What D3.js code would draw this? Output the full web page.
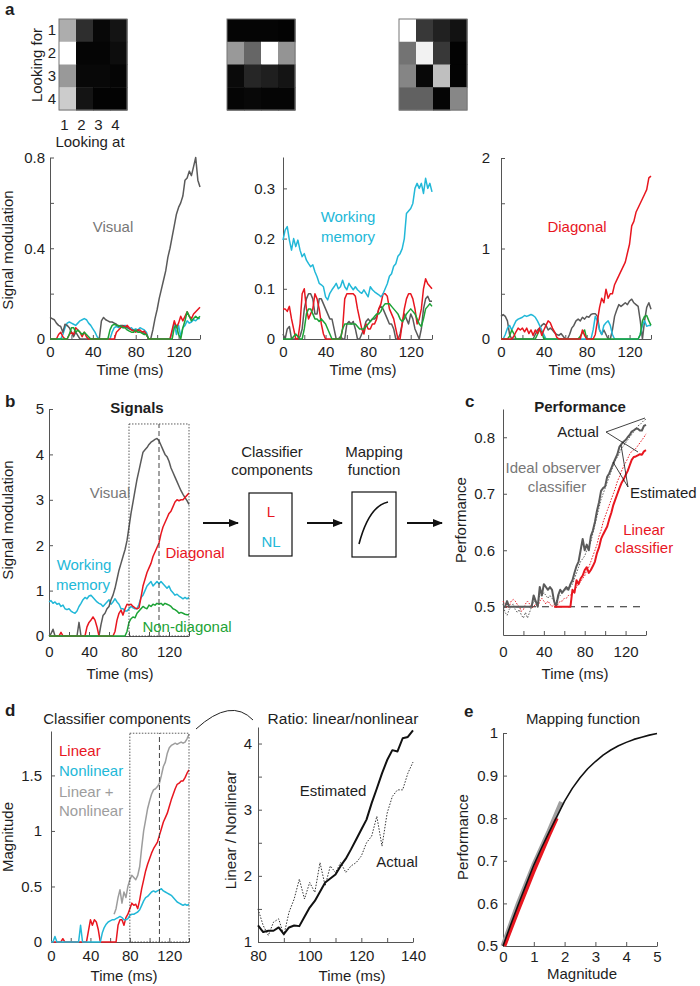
<!DOCTYPE html>
<html><head><meta charset="utf-8">
<script src="https://cdn.jsdelivr.net/npm/d3@7"></script>
<style>body{margin:0;background:#fff;}</style>
</head><body>
<script>
// ---------------- DATA ----------------
const timeMs = [0,2,4,6,8,10,12,14,16,18,20,22,24,26,28,30,32,34,36,38,40,42,44,46,48,50,52,54,56,58,60,62,64,66,68,70,72,74,76,78,80,82,84,86,88,90,92,94,96,98,100,102,104,106,108,110,112,114,116,118,120,122,124,126,128,130,132,134,136,138,140];
const ratioTimeMs = [80,82,84,86,88,90,92,94,96,98,100,102,104,106,108,110,112,114,116,118,120,122,124,126,128,130,132,134,136,138,140];

const lookLabels = ['1','2','3','4'];
const matVisual = [[0.68,0.18,0.03,0.08],[1,0.02,0.02,0.05],[0.6,0.03,0.03,0.02],[0.8,0.08,0.01,0.01]];
const matMemory = [[0.02,0.02,0.02,0.01],[0.6,0.4,1,0.58],[0.04,0.15,0.12,0.08],[0.02,0.03,0.02,0.02]];
const matDiagonal = [[1,0.22,0.13,0.07],[0.45,0.95,0.22,0.01],[0.52,0.03,0.75,0.01],[0.38,0.38,0.02,0.53]];

// panel a, left (Visual)
const aVisGray = [0.095,0.09,0.085,0.07,0.06,0.055,0.03,0.065,0.06,0.05, 0.03,0.01,0.03,0.015,0,0,0,0,0,0, 0,0,0,0,0.08,0.095,0.085,0.08,0.075,0.075, 0.07,0.065,0.055,0.06,0.06,0.055,0.05,0.045,0.04,0.04, 0.035,0.04,0.03,0.03,0.025,0.02,0,0,0.04,0.09, 0.13,0.18,0.22,0.26,0.3,0.36,0.4,0.45,0.5,0.55, 0.58,0.6,0.63,0.7,0.71,0.74,0.72,0.76,0.8,0.7, 0.67];
const aVisCyan = [0,0,0,0,0,0,0.02,0.05,0.07,0.075, 0.07,0.065,0.06,0.07,0.08,0.085,0.09,0.085,0.07,0.06, 0.045,0.03,0.01,0,0,0,0,0,0,0.03, 0.05,0.055,0.05,0.055,0.05,0.06,0.05,0.045,0.05,0.04, 0.045,0.04,0.05,0.045,0.04,0.03,0,0,0,0, 0,0,0,0,0,0,0,0.03,0.07,0.02, 0.06,0.01,0.05,0.06,0.08,0.07,0.075,0.085,0.08,0.09, 0.09];
const aVisRed = [0,0,0,0,0.02,0.03,0.01,0,0,0.02, 0.03,0.02,0.05,0.04,0.03,0.01,0.03,0.01,0,0, 0,0,0,0,0,0,0,0,0,0, 0,0.03,0.04,0.05,0.055,0.05,0.06,0.05,0.04,0.035, 0.03,0.04,0.04,0.03,0.035,0.02,0,0,0,0, 0,0,0,0,0,0,0,0.04,0.08,0.05, 0.07,0.1,0.08,0.1,0.12,0.1,0.09,0.11,0.12,0.13, 0.14];
const aVisGreen = [0,0,0,0,0,0,0,0,0,0.02, 0.05,0.05,0.03,0.04,0.03,0.02,0.03,0.02,0.01,0, 0,0,0,0,0,0,0,0,0.04,0.06, 0.065,0.06,0.06,0.055,0.05,0.05,0.04,0.035,0.03,0.03, 0.04,0.03,0.03,0.025,0.02,0.02,0,0,0,0, 0,0,0,0,0,0,0,0,0.05,0.06, 0.02,0,0.05,0.08,0.12,0.1,0.08,0.09,0.1,0.09, 0.1];

// panel a, middle (Working memory)
const aMemCyan = [0.197,0.217,0.224,0.197,0.177,0.2,0.184,0.197,0.177,0.164, 0.17,0.157,0.15,0.144,0.148,0.134,0.124,0.111,0.108,0.104, 0.084,0.078,0.091,0.098,0.104,0.111,0.1,0.104,0.117,0.104, 0.098,0.111,0.104,0.098,0.104,0.098,0.094,0.091,0.098,0.091, 0.084,0.104,0.098,0.094,0.091,0.088,0.084,0.09,0.1,0.11, 0.125,0.13,0.145,0.15,0.165,0.17,0.18,0.2,0.25,0.255, 0.26,0.27,0.3,0.31,0.3,0.31,0.29,0.32,0.3,0.31, 0.293];
const aMemRed = [0.06,0.06,0.055,0.065,0.04,0.02,0,0,0.03,0.09, 0.1,0.06,0.04,0.05,0.06,0.09,0.08,0.06,0.03,0.01, 0,0,0,0,0,0,0,0,0.02,0.08, 0.09,0.09,0.09,0.09,0.085,0.06,0.04,0.02,0.01,0.03, 0.02,0.02,0.03,0.03,0.04,0.06,0.07,0.09,0.09,0.085, 0.06,0.05,0.04,0.02,0,0,0.03,0.06,0.08,0.09, 0.09,0.08,0.06,0.03,0.04,0.06,0.1,0.12,0.11,0.105, 0.1];
const aMemGray = [0.01,0,0.02,0.025,0,0,0,0,0.005,0.02, 0.06,0.08,0.09,0.09,0.08,0.05,0.05,0.08,0.08,0.07, 0.06,0.05,0.04,0.04,0.02,0,0,0.005,0,0, 0.03,0.035,0.03,0.035,0.02,0,0,0.01,0.02,0.035, 0.04,0.035,0.04,0.04,0.045,0.06,0.065,0.06,0.05,0.04, 0.03,0.03,0.02,0,0,0.01,0.03,0.05,0.04,0.03, 0.05,0.04,0.02,0.01,0,0.02,0.06,0.08,0.085,0.075, 0.075];
const aMemGreen = [0,0,0,0,0,0.005,0.01,0.005,0,0, 0.02,0.05,0.06,0.06,0.05,0.04,0.04,0.035,0.04,0.035, 0.03,0.02,0.01,0,0,0,0,0,0.02,0.03, 0.03,0.03,0.03,0.03,0.03,0.025,0.02,0.02,0.02,0.025, 0.03,0.035,0.04,0.045,0.05,0.05,0.055,0.065,0.07,0.07, 0.07,0.065,0.06,0.055,0.05,0.04,0.035,0.04,0.05,0.055, 0.06,0.055,0.05,0.04,0.03,0.025,0.04,0.06,0.065,0.07, 0.065];

// panel a, right (Diagonal)
const aDiagRed = [0,0,0,0,0,0,0.03,0.08,0.12,0.1, 0.12,0.08,0.12,0.06,0.1,0.04,0.1,0.06,0.12,0.04, 0.1,0.15,0.2,0.18,0.12,0.08,0.02,0,0,0, 0,0,0,0,0,0,0,0,0.1,0.04, 0,0,0,0,0.05,0.2,0.35,0.45,0.4,0.55, 0.45,0.5,0.5,0.6,0.65,0.7,0.75,0.8,0.85,0.95, 1.05,1.25,1.3,1.4,1.45,1.5,1.55,1.6,1.65,1.78, 1.8];
const aDiagGray = [0.25,0.27,0.25,0.2,0.05,0,0,0,0,0, 0,0,0,0,0,0,0.05,0.1,0.12,0.15, 0.17,0.15,0.1,0.12,0.1,0.07,0.05,0.04,0.06,0.03, 0,0,0.05,0.12,0.15,0.2,0.22,0.2,0.24,0.22, 0.25,0.24,0.27,0.28,0.28,0.25,0.1,0.05,0.1,0.05, 0,0,0.1,0.25,0.32,0.38,0.36,0.38,0.4,0.38, 0.42,0.44,0.4,0.38,0.36,0.2,0,0.2,0.35,0.4, 0.33];
const aDiagCyan = [0,0,0.05,0.12,0.15,0.1,0.15,0.2,0.22,0.23, 0.24,0.26,0.25,0.26,0.27,0.26,0.24,0.2,0.15,0.1, 0.05,0,0,0,0,0,0,0,0,0, 0,0,0,0,0,0,0,0,0,0, 0,0,0,0.1,0.25,0.2,0.1,0.05,0.15,0.18, 0.2,0.15,0.05,0,0,0,0,0,0,0, 0,0,0,0,0,0.05,0.15,0.2,0.14,0.15, 0.15];
const aDiagGreen = [0,0,0,0,0.03,0.1,0.06,0,0,0, 0,0,0,0,0,0,0,0.05,0.1,0.08, 0,0,0,0,0,0,0,0,0,0, 0,0,0,0,0,0,0,0.03,0.07,0.1, 0,0,0,0,0,0,0,0,0,0, 0,0,0,0,0,0,0,0,0,0, 0,0,0,0,0,0.05,0.2,0.25,0.26,0.2, 0.15];

// panel b (Signals)
const bVisual = [0,0.05,0.15,0,0,0,0,0,0,0, 0,0,0,0,0,0.3,0,0,0,0, 0,0,0,0,0,0,0.25,0.45,0.5,0.6, 0.65,0.8,0.9,1.05,1.25,1.45,1.6,1.75,1.9,2.1, 2.4,2.7,2.95,3.2,3.45,3.65,3.85,4.05,4.1,4.15, 4.22,4.27,4.3,4.33,4.35,4.3,4.2,4.1,4.0,3.95, 3.85,3.7,3.6,3.5,3.4,3.3,3.2,3.12,3.05,2.98, 2.9];
const bDiagonal = [0,0,0,0,0,0,0.08,0,0,0, 0,0,0,0,0,0,0,0,0,0.2, 0.3,0.35,0.42,0.35,0.2,0,0,0,0,0, 0,0,0,0.1,0.35,0.5,0.57,0.46,0.6,0.7, 0.68,0.7,0.65,0.62,0.6,0.62,0.85,1.1,1.25,1.4, 1.5,1.6,1.75,1.85,1.95,2.05,2.25,2.4,2.5,2.6, 2.7,2.75,2.85,2.95,3.0,2.98,3.0,3.0,3.05,3.1, 3.15];
const bMemory = [0.75,0.78,0.72,0.75,0.7,0.72,0.65,0.68,0.6,0.58, 0.6,0.55,0.52,0.5,0.55,0.65,0.72,0.8,0.85,0.82, 0.88,0.9,0.85,0.8,0.75,0.72,0.7,0.65,0.7,0.75, 0.8,0.7,0.75,0.82,0.75,0.7,0.6,0.6,0.55,0.55, 0.6,0.65,0.62,0.6,0.6,0.7,0.85,0.9,1.0,1.1, 1.15,1.2,1.1,1.15,1.2,1.15,1.2,1.15,1.1,1.05, 1.1,1.0,0.95,0.9,0.92,0.88,0.85,0.82,0.85,0.82, 0.85];
const bNonDiag = [0,0,0,0,0,0,0,0,0,0, 0,0,0,0,0,0,0,0,0,0, 0,0,0,0,0,0,0,0,0,0, 0,0,0,0,0,0,0,0,0,0.1, 0.3,0.38,0.42,0.4,0.5,0.55,0.6,0.65,0.62,0.6, 0.68,0.65,0.7,0.68,0.72,0.7,0.72,0.68,0.72,0.7, 0.68,0.65,0.6,0.58,0.55,0.5,0.52,0.5,0.48,0.47, 0.47];

// panel c (Performance)
const cIdealActual = [0.5,0.5,0.51,0.5,0.5,0.5,0.5,0.5,0.5,0.5, 0.5,0.5,0.5,0.5,0.5,0.52,0.51,0.5,0.535,0.52, 0.54,0.535,0.53,0.535,0.53,0.51,0.5,0.52,0.53,0.525, 0.53,0.535,0.53,0.54,0.547,0.56,0.572,0.58,0.6,0.62, 0.6,0.61,0.6,0.625,0.635,0.65,0.67,0.685,0.705,0.71, 0.713,0.73,0.736,0.745,0.754,0.762,0.77,0.783,0.788,0.792, 0.795,0.8,0.804,0.81,0.812,0.815,0.815,0.812,0.812,0.82, 0.822];
const cIdealEst = [0.505,0.49,0.485,0.495,0.5,0.505,0.495,0.49,0.495,0.485, 0.48,0.49,0.48,0.49,0.5,0.51,0.51,0.505,0.52,0.52, 0.525,0.52,0.515,0.52,0.515,0.51,0.51,0.515,0.52,0.525, 0.53,0.53,0.535,0.535,0.54,0.55,0.56,0.57,0.58,0.585, 0.59,0.6,0.605,0.615,0.63,0.645,0.66,0.675,0.69,0.7, 0.71,0.72,0.73,0.74,0.75,0.76,0.765,0.772,0.78,0.785, 0.79,0.795,0.8,0.805,0.81,0.815,0.82,0.822,0.826,0.83, 0.832];
const cLinActual = [null,null,null,null,null,null,null,null,null,null, null,null,null,null,null,null,null,null,null,null, null,null,null,null,null,0.5,0.5,0.5,0.5,0.5, 0.5,0.5,0.5,0.5,0.53,0.525,0.547,0.54,0.55,0.555, 0.565,0.57,0.56,0.565,0.572,0.58,0.595,0.605,0.62,0.628, 0.635,0.642,0.655,0.666,0.68,0.69,0.7,0.71,0.719,0.725, 0.733,0.74,0.75,0.76,0.765,0.766,0.768,0.77,0.769,0.775, 0.777];
const cLinEst = [0.51,0.505,0.498,0.5,0.51,0.513,0.51,0.504,0.5,0.492, 0.495,0.505,0.51,0.505,0.498,0.5,0.505,0.5,0.51,0.515, 0.51,0.505,0.51,0.505,0.5,0.505,0.5,0.505,0.51,0.51, 0.515,0.515,0.52,0.52,0.525,0.53,0.535,0.54,0.545,0.55, 0.555,0.565,0.57,0.58,0.59,0.6,0.61,0.625,0.635,0.65, 0.66,0.67,0.68,0.69,0.7,0.71,0.722,0.73,0.74,0.748, 0.755,0.762,0.77,0.775,0.778,0.78,0.785,0.79,0.795,0.8, 0.806];
const cChance = [0.5,0.5];
const cChanceT = [0,140];

// panel d (Classifier components)
const dLinear = [0,0,0,0,0,0,0.03,0,0,0, 0,0,0,0,0,0,0,0,0,0.1, 0.2,0.15,0.2,0.18,0.11,0,0,0,0,0, 0,0,0,0,0.15,0.2,0.2,0.15,0.22,0.25, 0.3,0.35,0.33,0.34,0.3,0.38,0.48,0.56,0.64,0.7, 0.75,0.8,0.84,0.87,0.9,0.96,1.02,1.08,1.12,1.16, 1.22,1.28,1.33,1.38,1.42,1.43,1.45,1.45,1.48,1.52, 1.55];
const dNonlinear = [0,0,0.05,0,0,0,0,0,0,0, 0,0,0,0,0,0.15,0,0,0,0, 0,0,0,0,0,0,0.08,0.13,0.16,0.18, 0.19,0.2,0.2,0.21,0.22,0.23,0.22,0.2,0.2,0.21, 0.24,0.25,0.25,0.26,0.27,0.29,0.33,0.37,0.4,0.41, 0.43,0.45,0.46,0.45,0.46,0.47,0.48,0.46,0.45,0.44, 0.43,0.42,0.4,0.38,0.36,0.35,0.34,0.33,0.34,0.33, 0.34];
const dSum = [null,null,null,null,null,null,null,null,null,null, null,null,null,null,null,null,null,null,null,null, null,null,null,null,null,null,null,null,null,null, null,null,0.25,0.3,0.4,0.47,0.35,0.45,0.4,0.5, 0.56,0.6,0.58,0.56,0.6,0.68,0.85,1.0,1.1,1.2, 1.27,1.33,1.37,1.38,1.4,1.43,1.5,1.58,1.62,1.7, 1.75,1.77,1.78,1.79,1.78,1.79,1.8,1.79,1.8,1.83, 1.87];
const ratioEstimated = [1.25,1.15,1.17,1.17,1.22,1.12,1.22,1.25,1.24,1.38, 1.52,1.62,1.76,1.9,1.96,2.02,2.15,2.26,2.4,2.55, 2.7,2.85,3.1,3.32,3.55,3.75,3.9,3.88,4.08,4.1, 4.2];
const ratioActual = [1.5,1.25,1.1,1.3,1.35,1.1,1.45,1.65,1.95,1.65, 1.9,1.75,2.2,1.85,2.15,2.05,2.2,2.05,2.15,2.2, 2.3,2.5,2.6,2.9,2.45,2.95,3.2,3.3,3.3,3.55, 3.72];

// panel e (Mapping function)
const mapMagnitude = [0,0.25,0.5,0.75,1,1.25,1.5,1.75,2,2.25,2.5,2.75,3,3.25,3.5,3.75,4,4.25,4.5,4.75,5];
const mapPerformance = [0.5,0.55,0.598,0.644,0.69,0.73,0.768,0.804,0.84,0.87,0.895,0.916,0.933,0.948,0.96,0.97,0.978,0.985,0.99,0.995,0.999];
const sumRangeMag = [0,0.5,1,1.5,1.9];
const sumRangePerf = [0.5,0.6,0.69,0.77,0.838];
const linRangeMag = [0.05,0.5,1,1.5,1.75];
const linRangePerf = [0.5,0.585,0.675,0.76,0.8];

// tick values / labels
const timeTicks = [0,20,40,60,80,100,120,140];
const timeTickLabels = ['0','','40','','80','','120',''];
const ratioTimeTicks = [80,90,100,110,120,130,140];
const ratioTimeLabels = ['80','','100','','120','','140'];
const aVisYTicks = [0,0.2,0.4,0.6,0.8], aVisYLabels = ['0','','0.4','','0.8'];
const aMemYTicks = [0,0.1,0.2,0.3], aMemYLabels = ['0','0.1','0.2','0.3'];
const aDiagYTicks = [0,0.5,1,1.5,2], aDiagYLabels = ['0','','1','','2'];
const bYTicks = [0,1,2,3,4,5], bYLabels = ['0','1','2','3','4','5'];
const cYTicks = [0.5,0.6,0.7,0.8], cYLabels = ['0.5','0.6','0.7','0.8'];
const dYTicks = [0,0.5,1,1.5], dYLabels = ['0','0.5','1','1.5'];
const rYTicks = [1,1.5,2,2.5,3,3.5,4], rYLabels = ['1','','2','','3','','4'];
const eXTicks = [0,1,2,3,4,5], eXLabels = ['0','1','2','3','4','5'];
const eYTicks = [0.5,0.6,0.7,0.8,0.9,1], eYLabels = ['0.5','0.6','0.7','0.8','0.9','1'];

// ---------------- DRAWING ----------------
const COL = {gray:'#5a5a5a', cyan:'#22b8d8', red:'#e8161f', green:'#1ca336', lgray:'#9d9d9d', text:'#1e1e1e'};
const svg = d3.select('body').append('svg').attr('width',700).attr('height',986)
  .style('font-family','"Liberation Sans", Arial, Helvetica, sans-serif');

svg.append('defs').append('marker').attr('id','arr').attr('viewBox','0 0 10 10').attr('refX',9).attr('refY',5)
  .attr('markerWidth',5).attr('markerHeight',5).attr('orient','auto')
  .append('path').attr('d','M0,1 L10,5 L0,9 z').attr('fill','#111');

function txt(x,y,s,o={}){
  const t = svg.append('text').attr('x',x).attr('y',y).text(s)
    .attr('font-size',o.size||15).attr('fill',o.fill||COL.text).attr('text-anchor',o.anchor||'middle');
  if(o.bold) t.attr('font-weight','bold');
  return t;
}
function vtxt(x,y,s,o={}){
  svg.append('text').attr('transform',`translate(${x},${y}) rotate(-90)`).attr('text-anchor','middle')
    .attr('font-size',o.size||15).attr('fill',o.fill||COL.text).text(s);
}
function panel(c){
  const x = d3.scaleLinear().domain(c.xd).range(c.xr);
  const y = d3.scaleLinear().domain(c.yd).range(c.yr);
  const g = svg.append('g');
  const xa = g.append('g').attr('transform',`translate(0,${c.yr[0]})`)
    .call(d3.axisBottom(x).tickValues(c.xt).tickFormat((d,i)=>c.xl[i]).tickSizeInner(-4).tickSizeOuter(0).tickPadding(c.xpad));
  const ya = g.append('g').attr('transform',`translate(${c.xr[0]},0)`)
    .call(d3.axisLeft(y).tickValues(c.yt).tickFormat((d,i)=>c.yl[i]).tickSizeInner(-4).tickSizeOuter(0).tickPadding(c.ypad));
  [xa,ya].forEach(a=>{
    a.attr('font-family',null).attr('font-size',null);
    a.selectAll('text').attr('font-size',15).attr('fill',COL.text);
    a.selectAll('path,line').attr('stroke','#555').attr('stroke-width',1);
  });
  return {x,y,g};
}
function series(p, xs, ys, o){
  p.g.append('path').datum(ys).attr('fill','none').attr('stroke',o.c).attr('stroke-width',o.w||1.5)
    .attr('stroke-dasharray',o.dash||null).attr('stroke-linejoin','round').attr('stroke-linecap',o.cap||'butt')
    .attr('d', d3.line().defined(d=>d!==null).x((d,i)=>p.x(xs[i])).y(d=>p.y(d)));
}

// panel letters
txt(5,15,'a',{anchor:'start',bold:true,size:17});
txt(5,407,'b',{anchor:'start',bold:true,size:17});
txt(465,407,'c',{anchor:'start',bold:true,size:17});
txt(5,716,'d',{anchor:'start',bold:true,size:17});
txt(464,717,'e',{anchor:'start',bold:true,size:17});

// ---- a: matrices ----
function heat(x0, mat){
  const bx = d3.scaleBand().domain(lookLabels).range([x0,x0+68]);
  const by = d3.scaleBand().domain(lookLabels).range([19,110]);
  const g = svg.append('g');
  mat.forEach((row,r)=>row.forEach((v,c)=>{
    g.append('rect').attr('x',bx(lookLabels[c])).attr('y',by(lookLabels[r]))
      .attr('width',bx.bandwidth()+0.5).attr('height',by.bandwidth()+0.5)
      .attr('fill',d3.interpolateRgb('#000','#fff')(v));
  }));
  g.append('rect').attr('x',x0).attr('y',19).attr('width',68).attr('height',91)
    .attr('fill','none').attr('stroke','#777').attr('stroke-width',1);
  return {bx,by};
}
const h1 = heat(59, matVisual);
heat(227, matMemory);
heat(399, matDiagonal);
lookLabels.forEach(l=>{
  txt(56, h1.by(l)+h1.by.bandwidth()/2+5, l, {anchor:'end'});
  txt(h1.bx(l)+h1.bx.bandwidth()/2-3, 130, l);
});
vtxt(42,65,'Looking for');
txt(90,147,'Looking at');

// ---- a: line panels ----
const pA1 = panel({xd:[0,140],xr:[50,200],yd:[0,0.8],yr:[339,157.5],xt:timeTicks,xl:timeTickLabels,yt:aVisYTicks,yl:aVisYLabels,xpad:7,ypad:5});
series(pA1,timeMs,aVisCyan,{c:COL.cyan});
series(pA1,timeMs,aVisGray,{c:COL.gray});
series(pA1,timeMs,aVisRed,{c:COL.red});
series(pA1,timeMs,aVisGreen,{c:COL.green});
txt(113,232,'Visual',{fill:'#777'});
vtxt(13,250,'Signal modulation');
txt(130,375,'Time (ms)');

const pA2 = panel({xd:[0,140],xr:[283,432],yd:[0,0.3625],yr:[339,157],xt:timeTicks,xl:timeTickLabels,yt:aMemYTicks,yl:aMemYLabels,xpad:7,ypad:8});
series(pA2,timeMs,aMemGray,{c:COL.gray});
series(pA2,timeMs,aMemRed,{c:COL.red});
series(pA2,timeMs,aMemGreen,{c:COL.green});
series(pA2,timeMs,aMemCyan,{c:COL.cyan});
txt(348,222,'Working',{fill:COL.cyan});
txt(348,242,'memory',{fill:COL.cyan});
txt(363,375,'Time (ms)');

const pA3 = panel({xd:[0,140],xr:[501,651],yd:[0,2],yr:[339,158],xt:timeTicks,xl:timeTickLabels,yt:aDiagYTicks,yl:aDiagYLabels,xpad:7,ypad:11});
series(pA3,timeMs,aDiagGray,{c:COL.gray});
series(pA3,timeMs,aDiagCyan,{c:COL.cyan});
series(pA3,timeMs,aDiagGreen,{c:COL.green});
series(pA3,timeMs,aDiagRed,{c:COL.red});
txt(577,232,'Diagonal',{fill:COL.red});
txt(582,375,'Time (ms)');

// ---- b ----
const pB = panel({xd:[0,140],xr:[49,189],yd:[0,5],yr:[636,409],xt:timeTicks,xl:timeTickLabels,yt:bYTicks,yl:bYLabels,xpad:10,ypad:5});
series(pB,timeMs,bMemory,{c:COL.cyan});
series(pB,timeMs,bVisual,{c:COL.gray});
series(pB,timeMs,bDiagonal,{c:COL.red});
series(pB,timeMs,bNonDiag,{c:COL.green});
pB.g.append('rect').attr('x',pB.x(80)).attr('y',pB.y(4.67)).attr('width',pB.x(140)-pB.x(80)).attr('height',pB.y(0)-pB.y(4.67))
  .attr('fill','none').attr('stroke','#333').attr('stroke-width',0.8).attr('stroke-dasharray','1.5,1.5');
pB.g.append('line').attr('x1',pB.x(110)).attr('x2',pB.x(110)).attr('y1',pB.y(0)).attr('y2',pB.y(4.67))
  .attr('stroke','#444').attr('stroke-width',1).attr('stroke-dasharray','5,3');
txt(137,413,'Signals',{bold:true});
txt(110,498,'Visual',{fill:'#777'});
txt(84,570,'Working',{fill:COL.cyan});
txt(83,590,'memory',{fill:COL.cyan});
txt(195,558,'Diagonal',{fill:COL.red});
txt(187,632,'Non-diagonal',{fill:COL.green});
vtxt(13,520,'Signal modulation');
txt(120,679,'Time (ms)');

// schema
txt(272,457,'Classifier'); txt(272,475,'components');
txt(374,457,'Mapping'); txt(374,475,'function');
svg.append('rect').attr('x',249).attr('y',493).attr('width',43).attr('height',63).attr('fill','none').attr('stroke','#111').attr('stroke-width',1.2);
svg.append('rect').attr('x',352).attr('y',492).attr('width',44).attr('height',65).attr('fill','none').attr('stroke','#111').attr('stroke-width',1.2);
txt(271,517,'L',{fill:COL.red});
txt(271,547,'NL',{fill:COL.cyan});
svg.append('path').attr('d','M359,544 Q369,506 388,502').attr('fill','none').attr('stroke','#111').attr('stroke-width',1.6);
[[203,238],[307,342],[407,442]].forEach(a=>{
  svg.append('line').attr('x1',a[0]).attr('x2',a[1]).attr('y1',523).attr('y2',523)
    .attr('stroke','#111').attr('stroke-width',2).attr('marker-end','url(#arr)');
});

// ---- c ----
const pC = panel({xd:[0,140],xr:[503,646],yd:[0.45,0.85],yr:[635,409],xt:timeTicks,xl:timeTickLabels,yt:cYTicks,yl:cYLabels,xpad:11,ypad:8});
series(pC,cChanceT,cChance,{c:'#222',w:1,dash:'7,6'});
series(pC,timeMs,cIdealEst,{c:COL.gray,w:1,dash:'1.5,1.5'});
series(pC,timeMs,cLinEst,{c:COL.red,w:1,dash:'1.5,1.5'});
series(pC,timeMs,cIdealActual,{c:COL.gray,w:2});
series(pC,timeMs,cLinActual,{c:COL.red,w:2});
txt(580,412,'Performance',{bold:true});
txt(578,437,'Actual');
txt(553,473,'Ideal observer',{fill:'#777'});
txt(557,492,'classifier',{fill:'#777'});
txt(630,498,'Estimated',{anchor:'start'});
txt(644,535,'Linear',{fill:COL.red});
txt(644,553,'classifier',{fill:COL.red});
[[606,432,645,418],[606,432,638,452],[628,487,621,445],[628,487,613,462]].forEach(l=>{
  svg.append('line').attr('x1',l[0]).attr('y1',l[1]).attr('x2',l[2]).attr('y2',l[3]).attr('stroke','#111').attr('stroke-width',0.8);
});
vtxt(466,520,'Performance');
txt(575,679,'Time (ms)');

// ---- d left ----
const pD = panel({xd:[0,140],xr:[51,189],yd:[0,1.9],yr:[942,731],xt:timeTicks,xl:timeTickLabels,yt:dYTicks,yl:dYLabels,xpad:8,ypad:9});
series(pD,timeMs,dLinear,{c:COL.red});
series(pD,timeMs,dNonlinear,{c:COL.cyan});
series(pD,timeMs,dSum,{c:COL.lgray});
pD.g.append('rect').attr('x',pD.x(80)).attr('y',pD.y(1.88)).attr('width',pD.x(140)-pD.x(80)).attr('height',pD.y(0)-pD.y(1.88))
  .attr('fill','none').attr('stroke','#333').attr('stroke-width',0.8).attr('stroke-dasharray','1.5,1.5');
pD.g.append('line').attr('x1',pD.x(110)).attr('x2',pD.x(110)).attr('y1',pD.y(0)).attr('y2',pD.y(1.88))
  .attr('stroke','#444').attr('stroke-width',1).attr('stroke-dasharray','5,3');
txt(117,724,'Classifier components');
txt(59,756,'Linear',{anchor:'start',fill:COL.red});
txt(59,776,'Nonlinear',{anchor:'start',fill:COL.cyan});
txt(59,797,'Linear +',{anchor:'start',fill:COL.lgray});
txt(59,816,'Nonlinear',{anchor:'start',fill:COL.lgray});
vtxt(13,837,'Magnitude');
txt(124,981,'Time (ms)');
svg.append('path').attr('d','M196,729 Q231,697 253,720').attr('fill','none').attr('stroke','#222').attr('stroke-width',1);

// ---- d right ----
const pR = panel({xd:[80,140],xr:[258,413],yd:[1,4.25],yr:[942,727],xt:ratioTimeTicks,xl:ratioTimeLabels,yt:rYTicks,yl:rYLabels,xpad:8,ypad:6});
series(pR,ratioTimeMs,ratioActual,{c:'#333',w:1,dash:'1.5,1.5'});
series(pR,ratioTimeMs,ratioEstimated,{c:'#111',w:2});
txt(343,724,'Ratio: linear/nonlinear',{size:15.5});
txt(333,796,'Estimated');
txt(397,867,'Actual');
vtxt(236,830,'Linear / Nonlinear');
txt(352,981,'Time (ms)');

// ---- e ----
const pE = panel({xd:[0,5],xr:[503,657],yd:[0.5,1],yr:[946,733],xt:eXTicks,xl:eXLabels,yt:eYTicks,yl:eYLabels,xpad:5,ypad:5});
series(pE,sumRangeMag,sumRangePerf,{c:'#a0a0a0',w:5});
series(pE,linRangeMag,linRangePerf,{c:COL.red,w:3.5});
series(pE,mapMagnitude,mapPerformance,{c:'#111',w:1.6});
txt(583,724,'Mapping function');
vtxt(468,837,'Performance');
txt(582,979,'Magnitude');
</script>
</body></html>
